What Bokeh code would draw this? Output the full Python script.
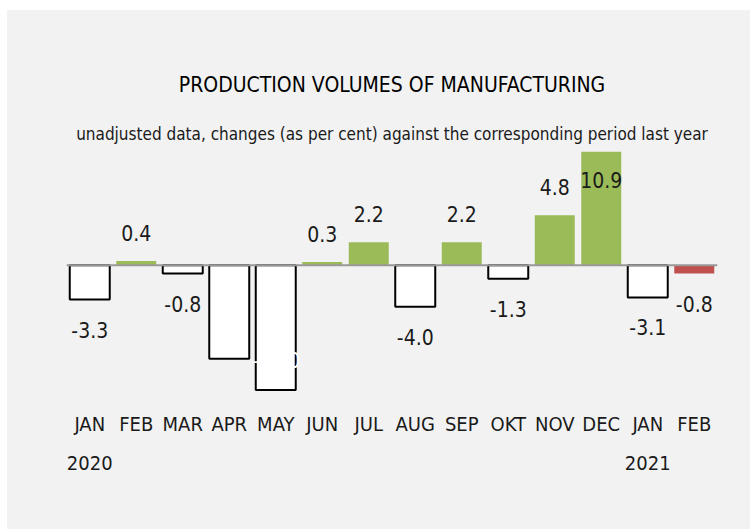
from bokeh.plotting import figure
from bokeh.models import ColumnDataSource, Span, Title, LinearAxis, Range1d, FixedTicker, Spacer
from bokeh.layouts import column, row
from bokeh.embed import file_html
from bokeh.resources import INLINE

# ---- data ----
month_labels = ["JAN", "FEB", "MAR", "APR", "MAY", "JUN", "JUL",
                "AUG", "SEP", "OKT", "NOV", "DEC", "JAN", "FEB"]
year_labels = {0: "2020", 12: "2021"}
values = [-3.3, 0.4, -0.8, -9.0, -12.0, 0.3, 2.2, -4.0, 2.2, -1.3, 4.8, 10.9, -3.1, -0.8]

title_text = "PRODUCTION VOLUMES OF MANUFACTURING"
subtitle_text = "unadjusted data, changes (as per cent) against the corresponding period last year"

# ---- styles ----
BG = "#f2f2f2"
GREEN = "#9bbb59"
RED = "#c0504d"
FONT = "DejaVu Sans Condensed"
TXT = "#1a1a1a"

n = len(values)
xs = list(range(n))
fills, lines, lwidths = [], [], []
lab_colors, lab_base, lab_off = [], [], []
for i, v in enumerate(values):
    last = i == n - 1
    if v >= 0:
        fills.append(GREEN); lines.append(None); lwidths.append(0)
    elif last:
        fills.append(RED); lines.append(None); lwidths.append(0)
    else:
        fills.append("white"); lines.append("black"); lwidths.append(2)
    inside = abs(v) > 5
    if v >= 0 and not inside:
        lab_base.append("bottom"); lab_off.append(-20); lab_colors.append(TXT)
    elif v >= 0 and inside:
        lab_base.append("top"); lab_off.append(20); lab_colors.append(TXT)
    elif not inside:
        lab_base.append("top"); lab_off.append(22); lab_colors.append(TXT)
    else:
        lab_base.append("bottom"); lab_off.append(-22); lab_colors.append("white")

src = ColumnDataSource(dict(
    x=xs, top=values, fill=fills, line=lines, lw=lwidths,
    label=["%.1f" % v for v in values], lc=lab_colors, lb=lab_base, lo=lab_off,
))

p = figure(
    width=743, height=519,
    x_range=Range1d(-0.5, n - 0.5),
    y_range=Range1d(-13.0, 11.4),
    output_backend="svg", toolbar_location=None, title=None,
    background_fill_color=None, border_fill_color=None, outline_line_color=None,
    min_border_left=59, min_border_right=33, min_border_top=136, min_border_bottom=129,
    x_axis_location=None, y_axis_location=None,
    styles={"background-color": BG},
)

p.add_layout(Title(text=subtitle_text, align="center", text_font=FONT,
                   text_font_size="17px", text_font_style="normal",
                   text_color=TXT, standoff=5), "above")
p.add_layout(Title(text=title_text, align="center", text_font=FONT,
                   text_font_size="21px", text_font_style="normal",
                   text_color="black", standoff=46), "above")

p.vbar(x="x", top="top", bottom=0, width=0.86, source=src,
       fill_color="fill", line_color="line", line_width="lw")

p.add_layout(Span(location=0, dimension="width", line_color="#999999", line_width=2))

p.text(x="x", y="top", text="label", source=src, text_color="lc",
       text_baseline="lb", y_offset="lo", text_align="center",
       text_font={"value": FONT}, text_font_size="21px")

p.xgrid.visible = False
p.ygrid.visible = False


def make_axis(ticks, labels, standoff):
    return LinearAxis(
        ticker=FixedTicker(ticks=ticks),
        major_label_overrides=labels,
        axis_line_color=None, major_tick_line_color=None, minor_tick_line_color=None,
        major_label_standoff=standoff,
        major_label_text_font=FONT, major_label_text_font_size="20px",
        major_label_text_color=TXT,
    )


p.add_layout(make_axis(xs, dict(zip(xs, month_labels)), 5), "below")
p.add_layout(make_axis(list(year_labels.keys()), year_labels, 11), "below")

layout = column(Spacer(height=10), row(Spacer(width=7), p))
open("out.html", "w").write(file_html(layout, INLINE))
